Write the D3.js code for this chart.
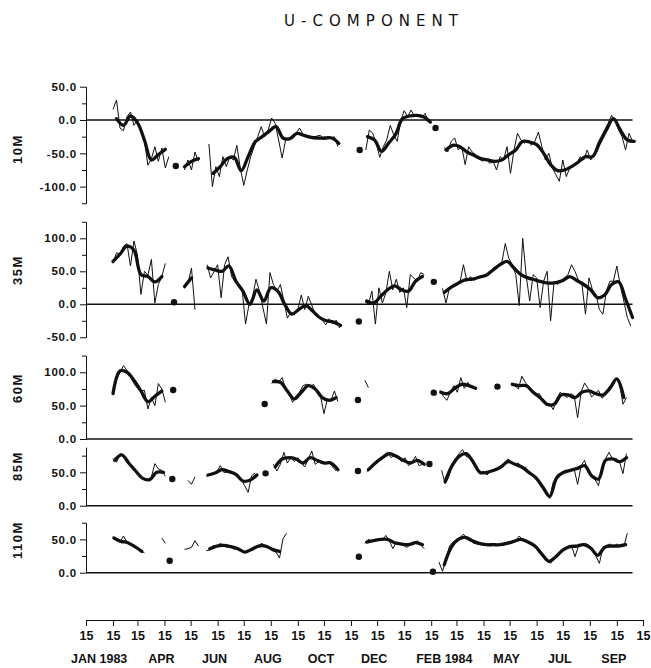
<!DOCTYPE html>
<html>
<head>
<meta charset="utf-8">
<script src="https://cdn.jsdelivr.net/npm/d3@7"></script>
<style>
body { margin: 0; background: #fff; }
svg { display: block; font-family: "Liberation Sans", Arial, sans-serif; }
.tick text { font-weight: bold; fill: #111; }
.tick line, .domain { stroke: #111; }
</style>
</head>
<body>
<svg id="chart" width="651" height="668"></svg>
<script>
// segments: [start date, values every RAW_STEP / SMOOTH_STEP days]
var u10Raw = [
  ["1983-02-15", [16, 30, -12, -16, 5, 12, -8, 0, -15, -30, -68, -58, -40, -62, -42, -72, -55]],
  ["1983-05-08", [-75, -60, -75, -48, -62]],
  ["1983-06-05", [-36, -100, -70, -85, -55, -70, -55, -60, -38, -72, -98, -75, -55, -40, -25, -10, -25, -15, 3, -5, -30, -57, -30, -28, -25, -20, -12, -22, -25, -24, -26, -24, -23, -30, -25, -28, -25, -40]],
  ["1983-12-02", [-45, -15, -20, -35, -56, -40, -30, -8, -22, -32, -2, 14, 5, 15, 5, 8, 3, 10, -3]],
  ["1984-03-01", [-41, -48, -32, -27, -45, -40, -67, -40, -48, -52, -58, -62, -58, -65, -62, -75, -55, -60, -40, -80, -45, -20, -30, -35, -30, -38, -32, -18, -40, -60, -50, -72, -82, -92, -60, -85, -72, -70, -65, -55, -60, -45, -60, -52, -35, -25, -15, -5, 7, -2, -15, -25, -45, -20, -32]]
];
var u10Smooth = [
  ["1983-02-19", [2, -8, 6, -4, -30, -60, -52, -44]],
  ["1983-05-08", [-70, -62, -58]],
  ["1983-06-10", [-80, -70, -58, -56, -76, -55, -33, -25, -17, -10, -27, -28, -20, -23, -26, -27, -27, -27, -35]],
  ["1983-12-04", [-25, -30, -47, -35, -22, 2, 6, 7, 5, -3]],
  ["1984-03-03", [-45, -38, -40, -48, -53, -58, -60, -62, -60, -52, -45, -32, -33, -37, -50, -67, -76, -75, -70, -63, -55, -55, -35, -15, 2, -15, -30, -32]]
];
var u10Dots = [["1983-04-28", -69], ["1983-11-25", -45], ["1984-02-20", -12]];

var u35Raw = [
  ["1983-02-15", [62, 78, 76, 88, 92, 58, 96, 75, 15, 50, 44, 68, 2, 30, 42, 62]],
  ["1983-05-08", [24, 32, 55, -8]],
  ["1983-06-03", [60, 40, 50, 60, 10, 60, 72, 42, 34, 29, 24, -30, 0, 10, 38, 20, -5, -30, 48, 30, 20, 30, 5, -21, -12, -16, -8, 14, -8, 12, -1, -16, -20, -24, -31, -22, -30, -24, -36]],
  ["1983-12-01", [4, 0, 20, -30, 25, 2, 17, 50, 22, 38, 18, 25, -5, 45, 40, 35, 48, 45]],
  ["1984-02-28", [24, 2, 25, 28, 30, 33, 60, 35, 42, 36, 41, 42, 45, 43, 52, 56, 60, 63, 92, 70, 60, 45, -2, 100, 43, 5, 45, 40, -5, 35, 50, -25, 35, 30, 35, 40, 45, 60, 50, 36, 30, -15, 40, 22, 15, -8, -15, 20, 35, 35, 58, 28, 5, -20, -33]]
];
var u35Smooth = [
  ["1983-02-15", [65, 76, 88, 82, 45, 42, 34, 42]],
  ["1983-05-08", [27, 40]],
  ["1983-06-04", [55, 52, 50, 58, 35, 20, 0, 22, 5, 25, 20, 0, -15, -8, -2, -10, -20, -25, -27, -32]],
  ["1983-12-03", [5, 2, 12, 22, 28, 22, 20, 35, 42]],
  ["1984-03-01", [18, 26, 32, 37, 38, 41, 44, 52, 60, 65, 55, 45, 40, 37, 34, 32, 33, 36, 42, 36, 30, 22, 10, 14, 30, 34, 8, -20]]
];
var u35Dots = [["1983-04-26", 3], ["1983-11-24", -26], ["1984-02-18", 34]];

var u60Raw = [
  ["1983-02-15", [66, 88, 100, 110, 103, 94, 83, 76, 72, 73, 45, 62, 50, 83, 75, 55]],
  ["1983-08-16", [83, 90, 85, 92, 75, 68, 55, 65, 70, 80, 82, 78, 82, 72, 65, 38, 60, 58, 72, 56]],
  ["1983-12-01", [88, 77]],
  ["1984-02-25", [73, 64, 58, 70, 80, 70, 92, 76, 85, 78, 76]],
  ["1984-05-17", [83, 80, 75, 94, 85, 77, 70, 66, 68, 58, 50, 53, 44, 60, 70, 66, 62, 68, 65, 32, 70, 84, 76, 63, 68, 73, 61, 66, 78, 82, 90, 85, 52, 62]]
];
var u60Smooth = [
  ["1983-02-15", [68, 102, 100, 88, 72, 56, 64, 72]],
  ["1983-08-18", [86, 85, 72, 60, 70, 80, 75, 62, 58, 62]],
  ["1984-02-26", [70, 68, 76, 82, 80, 76]],
  ["1984-05-18", [82, 80, 80, 70, 62, 52, 52, 66, 66, 62, 70, 72, 68, 66, 76, 90, 62]]
];
var u60Dots = [["1983-04-25", 73.5], ["1983-08-08", 52.5], ["1983-11-23", 58.5], ["1984-02-18", 69.5], ["1984-05-01", 78.5]];

var u85Raw = [
  ["1983-02-15", [71, 65, 78, 74, 66, 62, 57, 50, 45, 39, 38, 43, 63, 55, 53, 44]],
  ["1983-05-12", [38, 32, 43]],
  ["1983-06-02", [44, 48, 49, 50, 60, 50, 50, 52, 48, 46, 40, 30, 20, 45, 49]],
  ["1983-08-18", [62, 52, 62, 80, 64, 72, 66, 72, 64, 58, 70, 82, 62, 66, 63, 63, 64, 58, 52]],
  ["1983-12-03", [51, 55, 62, 68, 71, 76, 80, 72, 76, 74, 66, 72, 60, 65, 74, 60, 62]],
  ["1984-02-27", [53, 33, 42, 62, 70, 78, 84, 74, 72, 64, 55, 47, 52, 46, 51, 52, 56, 60, 64, 70, 66, 62, 64, 56, 58, 50, 47, 40, 34, 26, 22, 11, 35, 42, 48, 51, 52, 54, 55, 32, 60, 68, 50, 44, 39, 30, 58, 70, 80, 70, 71, 66, 48, 78]]
];
var u85Smooth = [
  ["1983-02-17", [68, 76, 64, 52, 41, 39, 50, 50]],
  ["1983-06-04", [46, 49, 54, 51, 47, 37, 38, 46]],
  ["1983-08-20", [58, 70, 72, 70, 64, 72, 68, 64, 64, 54]],
  ["1983-12-05", [54, 64, 72, 78, 74, 68, 64, 68, 62]],
  ["1984-03-02", [36, 60, 74, 78, 66, 50, 50, 53, 58, 66, 62, 58, 50, 42, 28, 14, 42, 50, 53, 56, 60, 45, 40, 68, 70, 66, 72]]
];
var u85Dots = [["1983-04-24", 40], ["1983-08-09", 48.5], ["1983-11-23", 52], ["1984-02-13", 62.5]];

var u110Raw = [
  ["1983-02-15", [54, 48, 46, 55, 46, 43, 39, 37, 32, 30]],
  ["1983-04-12", [52, 44]],
  ["1983-05-08", [35, 36, 38, 48, 40]],
  ["1983-06-02", [33, 34, 41, 39, 44, 41, 38, 40, 35, 38, 33, 30, 32, 36, 39, 41, 44, 40, 37, 33, 31, 22, 51, 59]],
  ["1983-12-01", [44, 50, 47, 49, 50, 49, 56, 48, 36, 46, 44, 41, 38, 42, 42, 48, 42, 36]],
  ["1984-02-24", [16, 2, 20, 40, 46, 49, 52, 58, 50, 48, 44, 43, 42, 41, 43, 42, 43, 42, 42, 45, 46, 47, 48, 55, 49, 46, 44, 41, 38, 30, 26, 20, 14, 22, 28, 34, 36, 38, 41, 24, 40, 42, 44, 41, 34, 25, 14, 38, 41, 43, 40, 43, 40, 39, 59]]
];
var u110Smooth = [
  ["1983-02-16", [52, 47, 45, 39, 32]],
  ["1983-06-06", [36, 40, 41, 39, 36, 31, 35, 40, 40, 35, 32]],
  ["1983-12-03", [46, 48, 50, 50, 45, 43, 42, 45, 42]],
  ["1984-03-01", [12, 38, 50, 53, 48, 44, 42, 42, 42, 44, 47, 50, 46, 40, 28, 17, 24, 34, 39, 40, 42, 37, 26, 38, 40, 40, 42]]
];
var u110Dots = [["1983-04-21", 18], ["1983-11-24", 24], ["1984-02-17", 1.5]];

var monthLabels = [
  ["1983-01-15", "JAN 1983"], ["1983-04-15", "APR"], ["1983-06-15", "JUN"],
  ["1983-08-15", "AUG"], ["1983-10-15", "OCT"], ["1983-12-15", "DEC"],
  ["1984-02-15", "FEB 1984"], ["1984-05-15", "MAY"], ["1984-07-15", "JUL"], ["1984-09-15", "SEP"]
];

var RAW_STEP = 4, SMOOTH_STEP = 8;
var parse = d3.utcParse("%Y-%m-%d");

var svg = d3.select("#chart");

var x = d3.scaleUtc()
  .domain([parse("1983-01-15"), parse("1984-10-15")])
  .range([86, 643]);
var lineEnd = parse("1984-10-03");

var panels = [
  {name: "10M", raw: u10Raw, smooth: u10Smooth, dots: u10Dots, domain: [-125, 50], range: [203.3, 86.7], labels: [50, 0, -50, -100], ly: 149},
  {name: "35M", raw: u35Raw, smooth: u35Smooth, dots: u35Dots, domain: [-50, 125], range: [337.3, 221.8], labels: [100, 50, 0, -50], ly: 270},
  {name: "60M", raw: u60Raw, smooth: u60Smooth, dots: u60Dots, domain: [0, 125], range: [439, 355.6], labels: [100, 50, 0], ly: 388},
  {name: "85M", raw: u85Raw, smooth: u85Smooth, dots: u85Dots, domain: [0, 87.5], range: [505.7, 447.3], labels: [50, 0], ly: 466},
  {name: "110M", raw: u110Raw, smooth: u110Smooth, dots: u110Dots, domain: [0, 75], range: [572.7, 522.7], labels: [50, 0], ly: 540}
];

function expand(seg, step) {
  var t0 = parse(seg[0]);
  return seg[1].map(function(v, i) { return {date: d3.utcDay.offset(t0, i * step), value: v}; });
}

panels.forEach(function(p) {
  var y = d3.scaleLinear().domain(p.domain).range(p.range);
  var g = svg.append("g");

  var minor = d3.range(p.domain[0], p.domain[1] + 0.01, 25).filter(function(v) { return p.labels.indexOf(v) < 0; });
  g.append("g")
    .attr("transform", "translate(86,0)")
    .call(d3.axisLeft(y).tickValues(minor).tickSize(4).tickSizeOuter(0).tickFormat(""));
  g.append("g")
    .attr("transform", "translate(86,0)")
    .call(d3.axisLeft(y).tickValues(p.labels).tickSize(6).tickSizeOuter(0)
      .tickFormat(function(v) { return v.toFixed(1); }))
    .call(function(a) {
      a.selectAll("text").attr("font-size", 11.5).attr("letter-spacing", 0.8).attr("x", -9);
    });

  g.append("line")
    .attr("x1", 86).attr("x2", x(lineEnd))
    .attr("y1", y(0)).attr("y2", y(0))
    .attr("stroke", "#111").attr("stroke-width", 1.4);

  var line = d3.line().x(function(d) { return x(d.date); }).y(function(d) { return y(d.value); });
  var smoothLine = d3.line().x(function(d) { return x(d.date); }).y(function(d) { return y(d.value); })
    .curve(d3.curveCatmullRom.alpha(0.5));

  g.selectAll("path.raw").data(p.raw).enter().append("path")
    .attr("class", "raw")
    .attr("d", function(s) { return line(expand(s, RAW_STEP)); })
    .attr("fill", "none").attr("stroke", "#111").attr("stroke-width", 1)
    .attr("stroke-linejoin", "round");

  g.selectAll("path.smooth").data(p.smooth).enter().append("path")
    .attr("class", "smooth")
    .attr("d", function(s) { return smoothLine(expand(s, SMOOTH_STEP)); })
    .attr("fill", "none").attr("stroke", "#111").attr("stroke-width", 3.3)
    .attr("stroke-linejoin", "round").attr("stroke-linecap", "round");

  g.selectAll("circle").data(p.dots).enter().append("circle")
    .attr("cx", function(d) { return x(parse(d[0])); })
    .attr("cy", function(d) { return y(d[1]); })
    .attr("r", 3.2).attr("fill", "#111");

  svg.append("text")
    .attr("transform", "translate(22," + p.ly + ") rotate(-90)")
    .attr("text-anchor", "middle")
    .attr("font-size", 13).attr("font-weight", "bold").attr("letter-spacing", 1.5)
    .attr("fill", "#111")
    .text(p.name);
});

// bottom time axis
var monthTicks = d3.utcMonth.range(parse("1983-01-01"), parse("1984-10-02")).map(function(d) { return d3.utcDay.offset(d, 14); });
svg.append("g")
  .attr("transform", "translate(0,620)")
  .call(d3.axisBottom(x).tickValues(monthTicks).tickSize(6).tickSizeOuter(0).tickFormat(function() { return "15"; }))
  .call(function(a) {
    a.selectAll("text").attr("font-size", 12.5).attr("y", 11);
  });

svg.append("g").selectAll("text").data(monthLabels).enter().append("text")
  .attr("x", function(d) { return x(parse(d[0])) + (d[1].length > 3 ? -15 : -3); })
  .attr("y", 663)
  .attr("text-anchor", function(d) { return d[1].length > 3 ? "start" : "middle"; })
  .attr("font-size", 12.5).attr("font-weight", "bold").attr("fill", "#111")
  .text(function(d) { return d[1]; });

svg.append("text")
  .attr("x", 371).attr("y", 26)
  .attr("text-anchor", "middle")
  .attr("font-family", "'DejaVu Sans', sans-serif")
  .attr("font-size", 15).attr("fill", "#111")
  .attr("textLength", 174).attr("lengthAdjust", "spacing")
  .text("U-COMPONENT");
</script>
</body>
</html>
